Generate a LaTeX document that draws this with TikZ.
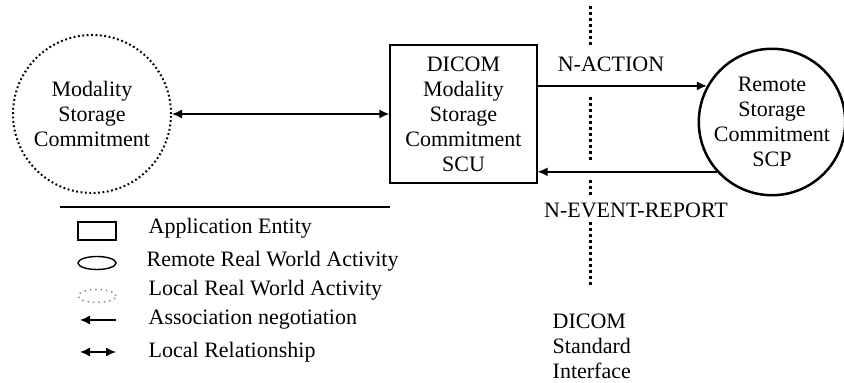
\documentclass[tikz,border=0pt]{standalone}
\usepackage{fontspec}
\setmainfont{Liberation Serif}
\usetikzlibrary{arrows.meta,shapes.geometric}

\tikzset{
  txt/.style={font=\fontsize{11}{12.5}\selectfont, inner sep=0pt},
  local/.style={draw, circle, line width=1pt, dash pattern=on 0.9pt off 1.3pt, minimum size=79pt, align=center},
  remote/.style={draw, circle, line width=1.25pt, minimum size=68pt, align=center},
  entity/.style={draw, line width=0.7pt, minimum width=73.5pt, minimum height=69pt, align=center},
  iface/.style={line width=1.5pt, dash pattern=on 1.5pt off 1.5pt},
}

\begin{document}
\begin{tikzpicture}[x=0.5pt, y=-0.5pt, >={Latex[length=5pt,width=4.5pt]}, line width=0.7pt]
    \useasboundingbox (0,0) rectangle (844,383);
    % Nodes
    \node[local, txt] (mod) at (92,114) {Modality\\Storage\\Commitment};
    \node[entity, txt] (scu) at (463.5,114) {DICOM\\Modality\\Storage\\Commitment\\SCU};
    \node[remote, txt] (scp) at (772,122) {Remote\\Storage\\Commitment\\SCP};
    \node[txt] (act) at (611,64) {N-ACTION};
    \node[txt] (evt) at (636,210) {N-EVENT-REPORT};
    \node[txt, anchor=west, align=left] (dsi) at (552,346) {DICOM\\Standard\\Interface};
    % Arrows connecting the nodes
    \draw[<->] (mod.east) -- (scu.west);
    \draw[->] (scu.east |- scp.151) -- (scp.151);
    \draw[->] (scp.222) -- (scu.east |- scp.222);
    % Interface line
    \draw[iface] (590,6) -- (590,46);
    \draw[iface] (590,97) -- (590,160);
    \draw[iface] (590,180) -- (590,196);
    \draw[iface] (590,222) -- (590,288);
    % Legend
    \draw (60,207) -- (390,207);
    \node[draw, minimum width=19pt, minimum height=9pt, inner sep=0pt] (aesym) at (97,231) {};
    \node[draw, ellipse, minimum width=19pt, minimum height=6.5pt, inner sep=0pt] (rwsym) at (97,263) {};
    \node[draw=gray, ellipse, dotted, minimum width=19pt, minimum height=6.5pt, inner sep=0pt] (lwsym) at (97,296) {};
    \coordinate (an1) at (116,320);
    \coordinate (an2) at (80,320);
    \coordinate (lr1) at (80,352);
    \coordinate (lr2) at (116,352);
    \draw[->] (an1) -- (an2);
    \draw[<->] (lr1) -- (lr2);
    \node[txt, anchor=west] (ae) at (148,228) {Application Entity};
    \node[txt, anchor=west] (rw) at (146,261) {Remote Real World Activity};
    \node[txt, anchor=west] (lw) at (148,290) {Local Real World Activity};
    \node[txt, anchor=west] (an) at (148,320) {Association negotiation};
    \node[txt, anchor=west] (lr) at (148,352) {Local Relationship};
\end{tikzpicture}
\end{document}
